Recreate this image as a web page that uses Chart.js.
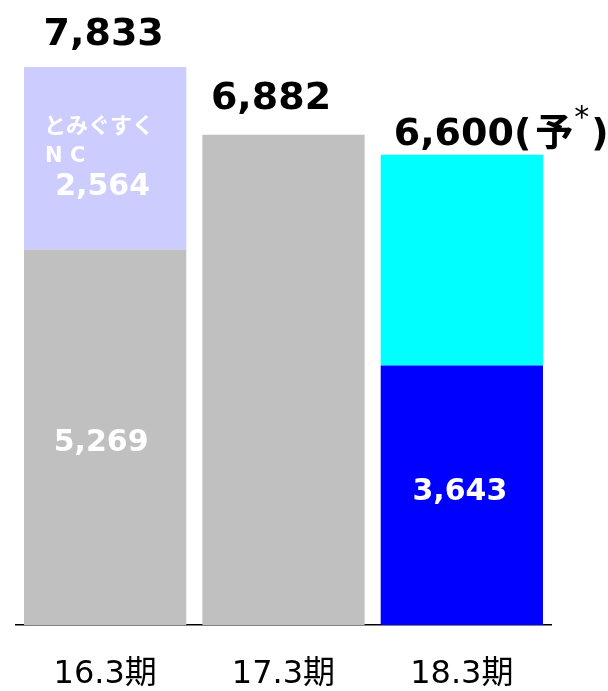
<!DOCTYPE html>
<html>
<head>
<meta charset="utf-8">
<script src="https://cdn.jsdelivr.net/npm/chart.js@4.4.0/dist/chart.umd.min.js"></script>
<style>
  html, body { margin: 0; padding: 0; background: #fff; }
</style>
</head>
<body>
<canvas id="mycanvas" width="608" height="691"></canvas>
<script>
// data
var periods = ['16.3期', '17.3期', '18.3期'];
var baseValues = [5269, 6882, 3643];
var upperValues = [2564, 0, 2957];
var totals = [7833, 6882, 6600];
var baseLabels = ['5,269', '', '3,643'];
var upperLabels = ['2,564', '', ''];
var upperNames = [['とみぐすく', 'N C'], null, null];
var totalLabels = ['7,833', '6,882', '6,600'];
var totalSuffix = [null, null, ['(', '予', '*', ')']];

var baseColors = ['#C0C0C0', '#C0C0C0', '#0000FF'];
var upperColors = ['#CCCCFF', '#CCCCFF', '#00FFFF'];

var LATIN = "'DejaVu Sans', 'Noto Sans CJK JP', sans-serif";
var CJK = "'Noto Sans CJK JP', 'DejaVu Sans', sans-serif";

// label placement tweaks (px), per bar
var totalStyle = [
    { dx: -1.5, gap: 22 },
    { dx: -12.5, gap: 26 },
    { left: 13, gap: 10 }
];

var labelPlugin = {
    id: 'barLabels',
    afterDatasetsDraw: function(chart) {
        var ctx = chart.ctx;
        var yScale = chart.scales.y;
        var baseMeta = chart.getDatasetMeta(0);
        ctx.save();
        for (var i = 0; i < periods.length; i++) {
            var bar = baseMeta.data[i];
            var x = bar.x;
            var yZero = yScale.getPixelForValue(0);
            var yBase = yScale.getPixelForValue(baseValues[i]);
            var yTop = yScale.getPixelForValue(totals[i]);

            // value inside lower segment
            if (baseLabels[i]) {
                ctx.fillStyle = '#FFFFFF';
                ctx.font = 'bold 30px ' + LATIN;
                ctx.textAlign = 'center';
                ctx.textBaseline = 'alphabetic';
                var dy = (i === 0) ? 14 : 5;
                var dxb = (i === 0) ? -4 : -2;
                ctx.fillText(baseLabels[i], x + dxb, (yZero + yBase) / 2 + dy);
            }

            // name + value inside upper segment
            if (upperNames[i]) {
                var left = x - bar.width / 2 + 20;
                ctx.fillStyle = '#FFFFFF';
                ctx.textAlign = 'left';
                ctx.font = 'bold 22px ' + CJK;
                ctx.fillText(upperNames[i][0], left, yTop + 66);
                ctx.font = 'bold 21px ' + LATIN;
                ctx.fillText(upperNames[i][1], left + 1, yTop + 95);
                ctx.font = 'bold 30px ' + LATIN;
                ctx.textAlign = 'center';
                ctx.fillText(upperLabels[i], x - 2.5, yTop + 128);
            }

            // total above bar
            var st = totalStyle[i];
            var baseline = yTop - st.gap;
            ctx.fillStyle = '#000000';
            ctx.font = 'bold 38px ' + LATIN;
            if (!totalSuffix[i]) {
                ctx.textAlign = 'center';
                ctx.fillText(totalLabels[i], x + st.dx, baseline);
            } else {
                var sx = x - bar.width / 2 + st.left;
                var sfx = totalSuffix[i];
                ctx.textAlign = 'left';
                ctx.fillText(totalLabels[i], sx, baseline);
                sx += ctx.measureText(totalLabels[i]).width;
                ctx.fillText(sfx[0], sx, baseline);
                sx += ctx.measureText(sfx[0]).width + 4;
                ctx.font = 'bold 38px ' + CJK;
                ctx.fillText(sfx[1], sx, baseline);
                sx += ctx.measureText(sfx[1]).width + 1;
                ctx.font = '30px ' + LATIN;
                ctx.fillText(sfx[2], sx, baseline - 18);
                sx += ctx.measureText(sfx[2]).width + 2;
                ctx.font = 'bold 38px ' + LATIN;
                ctx.fillText(sfx[3], sx, baseline);
            }
        }
        ctx.restore();
    }
};

var chartdata = {
    labels: periods,
    datasets: [
        {
            label: 'base',
            data: baseValues,
            backgroundColor: baseColors,
            borderWidth: 0
        },
        {
            label: 'upper',
            data: upperValues,
            backgroundColor: upperColors,
            borderWidth: 0
        }
    ]
};

var ctx = document.getElementById('mycanvas');

var barGraph = new Chart(ctx, {
    type: 'bar',
    data: chartdata,
    plugins: [labelPlugin],
    options: {
        responsive: false,
        devicePixelRatio: 1,
        animation: false,
        layout: { padding: { left: 16, right: 57, top: 55, bottom: 0 } },
        datasets: { bar: { categoryPercentage: 1, barPercentage: 0.91 } },
        plugins: {
            legend: { display: false },
            tooltip: { enabled: false }
        },
        scales: {
            x: {
                stacked: true,
                grid: { display: false, drawTicks: false },
                border: { display: true, color: '#000000', width: 1.5 },
                ticks: {
                    color: '#000000',
                    padding: 30,
                    font: { family: LATIN, size: 32 }
                },
                afterFit: function(scale) { scale.height = 66; }
            },
            y: {
                stacked: true,
                display: false,
                min: 0,
                max: 8000
            }
        }
    }
});
</script>
</body>
</html>
